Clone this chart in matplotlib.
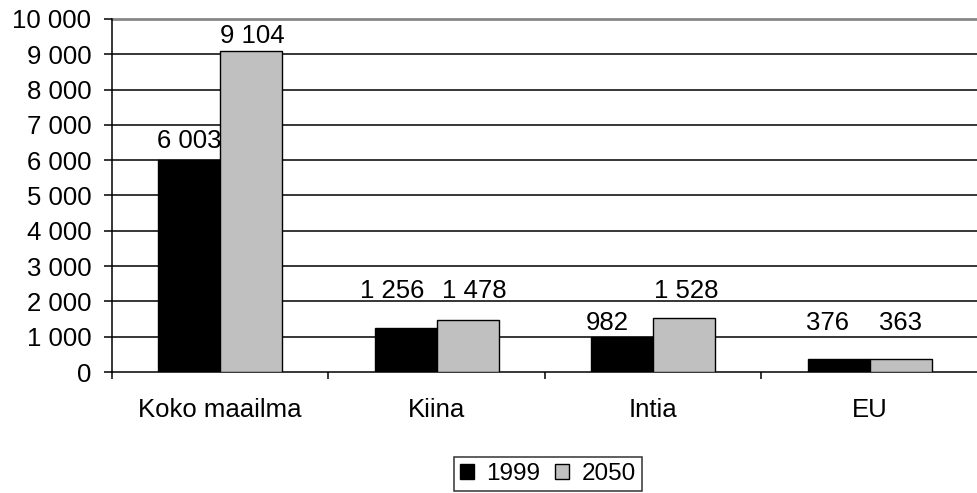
import numpy as np
import matplotlib.pyplot as plt
from matplotlib.ticker import FuncFormatter

plt.rcParams['font.family'] = ['Liberation Sans', 'DejaVu Sans']

categories = ['Koko maailma', 'Kiina', 'Intia', 'EU']
series_names = ['1999', '2050']
values_1999 = [6003, 1256, 982, 376]
values_2050 = [9104, 1478, 1528, 363]
y_ticks = list(range(0, 10001, 1000))

# label nudges in pixels (dx, lift above bar); the original labels sit unevenly
nudge_1999 = [(0, 12), (-13, 30), (-15, 7), (-11, 29)]
nudge_2050 = [(1, 8), (6, 22), (2, 20), (0, 29)]


def fmt_thousands(v, pos=None):
	# Finnish style: space as thousands separator
	return '{:,}'.format(int(v)).replace(',', ' ')


fig = plt.figure(figsize=(9.78, 4.93), dpi=100)
ax = fig.add_axes([112 / 978, 1 - 372 / 493, 866 / 978, 353 / 493])

x = np.arange(len(categories))
width = 0.287
fs = 18.5
px = 72 / 100.0  # points per pixel

bars1 = ax.bar(x - width / 2, values_1999, width, color='black', edgecolor='black',
	linewidth=1, label=series_names[0], zorder=3)
bars2 = ax.bar(x + width / 2, values_2050, width, color='#c0c0c0', edgecolor='black',
	linewidth=1, label=series_names[1], zorder=3)

for bars, nudges in ((bars1, nudge_1999), (bars2, nudge_2050)):
	for b, (dx, lift) in zip(bars, nudges):
		ax.annotate(fmt_thousands(b.get_height()),
			(b.get_x() + b.get_width() / 2, b.get_height()),
			xytext=(dx * px, lift * px), textcoords='offset points',
			ha='center', va='baseline', fontsize=fs, zorder=4)

ax.set_xlim(-0.5, len(categories) - 0.5)
ax.set_ylim(0, 10000)
ax.set_yticks(y_ticks)
ax.yaxis.set_major_formatter(FuncFormatter(fmt_thousands))

# gridlines: black, top one gray
for t in y_ticks[1:-1]:
	ax.axhline(t, color='black', linewidth=1.1, zorder=1)
ax.axhline(y_ticks[-1], color='#888888', linewidth=2, zorder=1, clip_on=False)

# category labels between boundary ticks
ax.set_xticks(np.arange(len(categories) + 1) - 0.5)
ax.set_xticklabels([])
ax.set_xticks(x, minor=True)
ax.set_xticklabels(categories, minor=True, fontsize=fs)
ax.tick_params(axis='x', which='minor', length=0, pad=19)
ax.tick_params(axis='x', which='major', length=5, width=1.1, direction='out', color='black')
ax.tick_params(axis='y', length=6, width=1.1, labelsize=fs, pad=9)

for side in ('top', 'right'):
	ax.spines[side].set_visible(False)
ax.spines['left'].set_linewidth(1.1)
ax.spines['bottom'].set_linewidth(1.1)

leg = fig.legend(loc='lower center', bbox_to_anchor=(548 / 978, 0.004), ncol=2,
	fontsize=17.5, frameon=True, fancybox=False, edgecolor='black',
	handlelength=0.58, handleheight=0.58, handletextpad=0.5, columnspacing=0.6,
	borderpad=0.25, borderaxespad=0.0)
leg.get_frame().set_linewidth(1.1)

fig.savefig('out.png', dpi=100)
